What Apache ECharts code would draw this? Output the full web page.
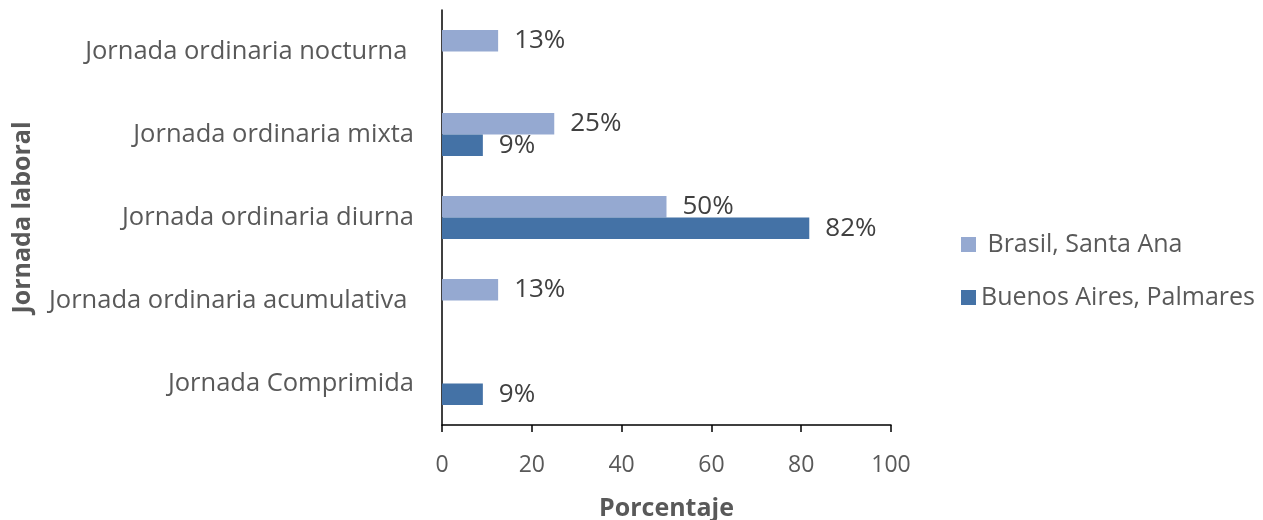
<!DOCTYPE html>
<html>
<head>
<meta charset="utf-8">
<script src="https://cdn.jsdelivr.net/npm/echarts@6/dist/echarts.min.js"></script>
<style>html,body{margin:0;padding:0;background:#fff;}#c{width:1263px;height:520px;}</style>
</head>
<body>
<div id="c"></div>
<script>
const categories = ['Jornada Comprimida', 'Jornada ordinaria acumulativa ', 'Jornada ordinaria diurna', 'Jornada ordinaria mixta', 'Jornada ordinaria nocturna '];
const brasilSantaAna = [null, 12.5, 50, 25, 12.5];
const buenosAiresPalmares = [9.1, null, 81.8, 9.1, null];
const xTicks = [0, 20, 40, 60, 80, 100];
const seriesNames = [' Brasil, Santa Ana', 'Buenos Aires, Palmares'];

const FONT = 'Open Sans';
const GRAY = '#595959';
const chart = echarts.init(document.getElementById('c'));
const lbl = {
  show: true, position: 'right', distance: 16,
  fontFamily: FONT, fontSize: 26, color: '#404040',
  formatter: p => Math.round(p.value) + '%'
};
chart.setOption({
  animation: false,
  textStyle: { fontFamily: FONT },
  grid: { left: 442, right: 372, top: 10, bottom: 95, containLabel: false, outerBoundsMode: 'none' },
  legend: {
    orient: 'vertical', left: 956, top: 227, itemGap: 28,
    itemWidth: 15, itemHeight: 15, icon: 'rect',
    textStyle: { fontFamily: FONT, fontSize: 25, color: GRAY },
    data: seriesNames
  },
  xAxis: {
    type: 'value', min: xTicks[0], max: xTicks[xTicks.length - 1], interval: 20,
    name: 'Porcentaje', nameLocation: 'middle', nameGap: 71,
    nameTextStyle: { fontFamily: FONT, fontSize: 25, fontWeight: 'bold', color: GRAY },
    axisLine: { show: true, lineStyle: { color: '#000', width: 1.5 } },
    axisTick: { show: true, length: 7, lineStyle: { color: '#000', width: 1.5 } },
    axisLabel: { margin: 29, fontFamily: FONT, fontSize: 23, color: GRAY },
    splitLine: { show: false }
  },
  yAxis: {
    type: 'category', data: categories,
    name: 'Jornada laboral', nameLocation: 'middle', nameGap: 407, nameRotate: 90,
    nameTextStyle: { fontFamily: FONT, fontSize: 25, fontWeight: 'bold', color: GRAY },
    axisLine: { show: true, lineStyle: { color: '#000', width: 1.5 } },
    axisTick: { show: false },
    axisLabel: { margin: 28, fontFamily: FONT, fontSize: 25.5, color: GRAY }
  },
  series: [
    { name: seriesNames[0], type: 'bar', data: brasilSantaAna, barGap: '0%', barCategoryGap: '48%',
      itemStyle: { color: '#95A9D1' }, label: lbl, labelLayout: { moveOverlap: 'shiftY' } },
    { name: seriesNames[1], type: 'bar', data: buenosAiresPalmares, barGap: '0%', barCategoryGap: '48%',
      itemStyle: { color: '#4472A6' }, label: lbl, labelLayout: { moveOverlap: 'shiftY' } }
  ]
});
</script>
</body>
</html>
